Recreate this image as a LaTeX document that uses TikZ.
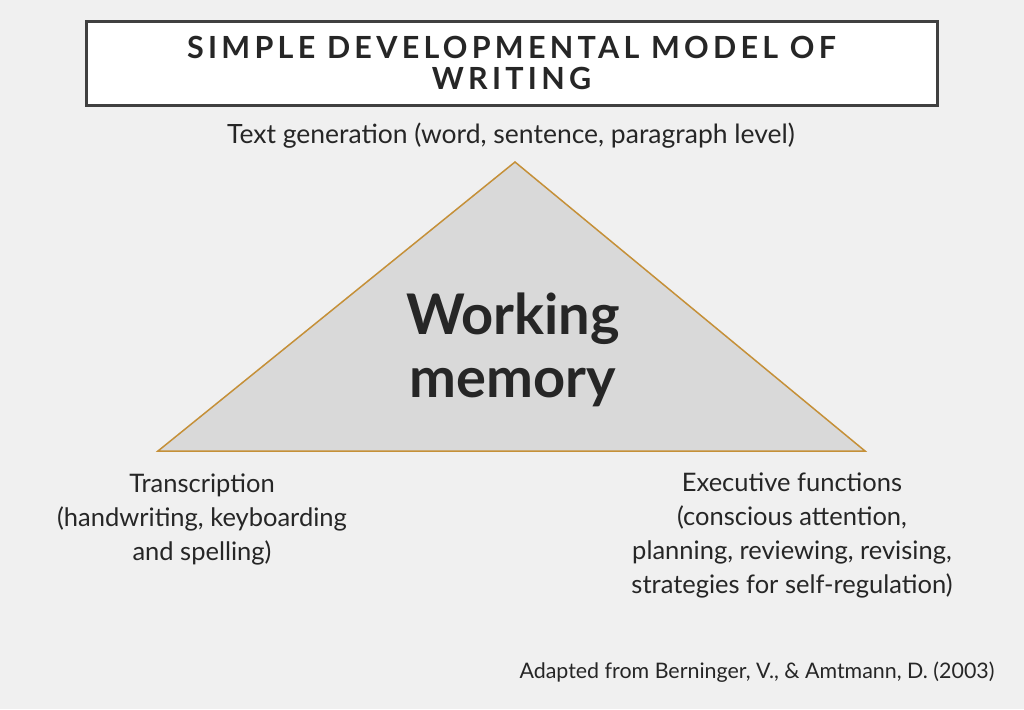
\documentclass[tikz,border=0pt]{standalone}
\usepackage{fontspec}
\setmainfont{Lato}
\definecolor{bg}{HTML}{F0F0F0}
\definecolor{txt}{HTML}{262626}
\definecolor{boxline}{HTML}{404040}
\definecolor{trifill}{HTML}{D9D9D9}
\definecolor{triline}{HTML}{C59038}
\begin{document}
\begin{tikzpicture}[x=1pt,y=-1pt,
  lbl/.style={text=txt,font=\fontsize{25.5}{34}\selectfont,align=center,inner sep=0pt},
  ttl/.style={text=txt,font=\fontsize{30.5}{31}\selectfont\bfseries\addfontfeatures{LetterSpace=14},align=center,inner sep=0pt}]
\fill[bg] (0,0) rectangle (1024,709);
\useasboundingbox (0,0) rectangle (1024,709);
\node[draw=boxline,line width=3pt,fill=white,minimum width=851pt,minimum height=83pt,inner sep=0pt] (title) at (511.5,63.5) {};
\node[ttl] (titletext) at (511.5,63) {SIMPLE DEVELOPMENTAL MODEL OF\\WRITING};
\coordinate (apex) at (515,162);
\coordinate (bl) at (158,451);
\coordinate (br) at (865,451);
\filldraw[fill=trifill,draw=triline,line width=1.5pt,line join=miter] (apex) -- (bl) -- (br) -- cycle;
\node[text=txt,font=\fontsize{56}{63}\selectfont\bfseries,align=center,inner sep=0pt] (wm) at (513,350) {Working\\memory};
\node[lbl,font=\fontsize{26.5}{34}\selectfont] (gen) at (511,136) {Text generation (word, sentence, paragraph level)};
\node[lbl] (trans) at (202,519) {Transcription\\(handwriting, keyboarding\\and spelling)};
\node[lbl] (exec) at (792,535) {Executive functions\\(conscious attention,\\planning, reviewing, revising,\\strategies for self-regulation)};
\node[text=txt,font=\fontsize{21.4}{24}\selectfont,inner sep=0pt] (src) at (757,672) {Adapted from Berninger, V., \& Amtmann, D. (2003)};
\end{tikzpicture}
\end{document}
